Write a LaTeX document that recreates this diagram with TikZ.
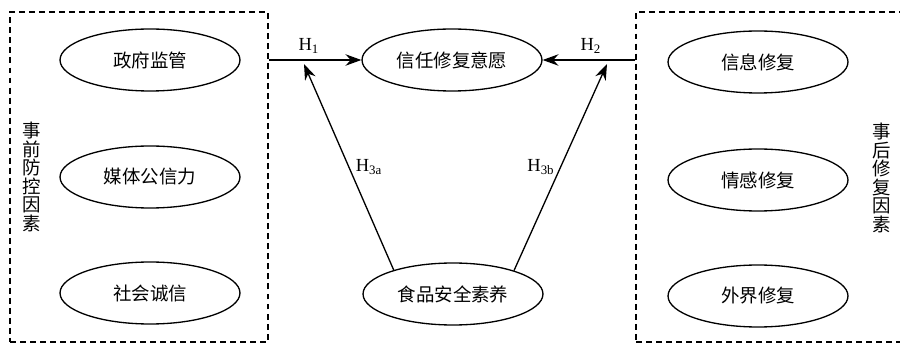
\documentclass[tikz,border=0pt]{standalone}
\usepackage{fontspec}
\setmainfont{Liberation Serif}
\newfontfamily\cjk{Noto Sans CJK SC}
\usepackage{tikz}
\usetikzlibrary{arrows.meta, shapes.geometric, positioning}

\begin{document}
\begin{tikzpicture}[
  x=0.02cm, y=-0.02cm,
  >={Stealth[length=9pt, width=6.5pt]},
  factor/.style={draw, ellipse, line width=0.75pt, inner sep=0pt,
                 minimum width=3.6cm, minimum height=1.24cm,
                 font=\cjk\fontsize{10.5}{12}\selectfont},
  groupbox/.style={draw, line width=0.85pt, dash pattern=on 3.4pt off 2.3pt,
                   inner sep=0pt},
  sidelbl/.style={font=\cjk\fontsize{10.5}{10.6}\selectfont, align=center,
                  inner sep=0pt},
  hyp/.style={font=\fontsize{10.5}{12}\selectfont, inner sep=1pt},
  link/.style={->, line width=0.75pt}
]
\useasboundingbox (0,0) rectangle (900,344);

% Left group: ex-ante factors
\node[groupbox, minimum width=5.16cm, minimum height=6.6cm] (lbox) at (139,177) {};
\node[factor] (gov)   at (150,60)  {政府监管};
\node[factor] (media) at (150,177) {媒体公信力};
\node[factor] (honor) at (150,293) {社会诚信};
\node[sidelbl] (llbl) at (32,177) {事\\前\\防\\控\\因\\素};

% Right group: ex-post factors
\node[groupbox, minimum width=5.5cm, minimum height=6.6cm] (rbox) at (773.5,177) {};
\node[factor] (info) at (758,62)  {信息修复};
\node[factor] (emo)  at (758,180) {情感修复};
\node[factor] (ext)  at (758,296) {外界修复};
\node[sidelbl] (rlbl) at (882,178) {事\\后\\修\\复\\因\\素};

% Center
\node[factor] (trust) at (452,60)  {信任修复意愿};
\node[factor] (lit)   at (453,294) {食品安全素养};

\draw[link] (trust.west -| lbox.east) -- (trust.west);
\draw[link] (trust.east -| rbox.west) -- (trust.east);

\coordinate (h3a) at (304,64);
\coordinate (h3b) at (607,64);
\draw[link] (lit.158) -- (h3a);
\draw[link] (lit.21) -- (h3b);

% Hypothesis labels
\node[hyp] (hone)   at (309,46)  {H\textsubscript{1}};
\node[hyp] (htwo)   at (591,46)  {H\textsubscript{2}};
\node[hyp] (hthra)  at (369,167) {H\textsubscript{3a}};
\node[hyp] (hthrb)  at (541,167) {H\textsubscript{3b}};

\end{tikzpicture}
\end{document}
